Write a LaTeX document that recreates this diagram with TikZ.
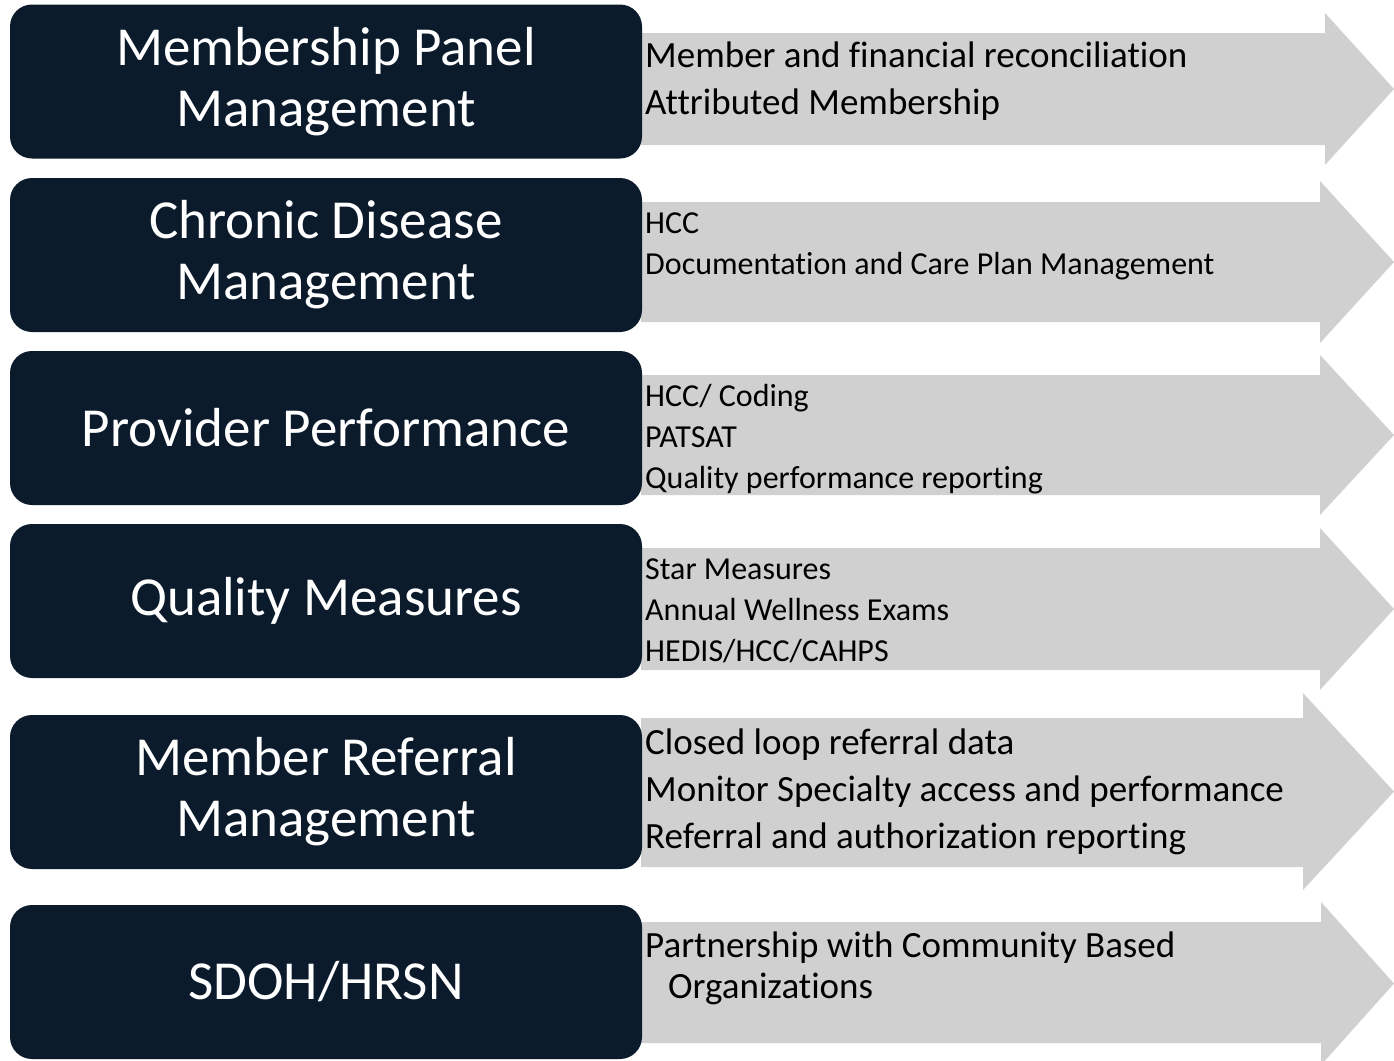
\documentclass[tikz,border=0pt]{standalone}
\usepackage{fontspec}
\setmainfont{Carlito}[Ligatures=NoCommon]
\usetikzlibrary{positioning}
\definecolor{navy}{RGB}{11,27,44}
\definecolor{arrowgray}{RGB}{208,208,208}

\tikzset{
  panel/.style={fill=navy, rounded corners=22pt, minimum width=632pt, minimum height=154pt,
    text=white, align=center, inner sep=0pt, font=\fontsize{55}{61}\selectfont},
  flow/.style={fill=arrowgray},
  itembig/.style={anchor=west, align=left, inner sep=0pt, font=\fontsize{37}{47}\selectfont},
  itemsmall/.style={anchor=west, align=left, inner sep=0pt, font=\fontsize{32}{41}\selectfont},
}

\begin{document}
\begin{tikzpicture}[x=1pt,y=-1pt]
\useasboundingbox (0,0) rectangle (1394,1060);
\clip (0,0) rectangle (1394,1060);
% grey arrows: body top/bottom, head top/bottom, head start
\foreach \bt/\bb/\ht/\hb/\hx in {33/145/13/165/1325, 202/322/181/343/1320,
  375/495/355/515/1320, 548/670/528/690/1320, 718/867/693/890/1303,
  922/1043/902/1065/1321}{
\fill[flow] (641,\bt) -- (\hx,\bt) -- (\hx,\ht) -- (1394,{(\ht+\hb)/2})
  -- (\hx,\hb) -- (\hx,\bb) -- (641,\bb) -- cycle;
}
% dark panels
\node[panel] (membership) at (326,81.5) {Membership Panel\\Management};
\node[panel] (chronic) at (326,255) {Chronic Disease\\Management};
\node[panel] (provider) at (326,428) {Provider Performance};
\node[panel] (quality) at (326,601) {Quality Measures};
\node[panel] (referral) at (326,792) {Member Referral\\Management};
\node[panel] (sdoh) at (326,982) {SDOH/HRSN};
% items on the arrows
\node[itembig] (membershipitems) at (645,81.5) {Member and financial reconciliation\\Attributed Membership};
\node[itemsmall] (chronicitems) at (645,246) {HCC\\Documentation and Care Plan Management};
\node[itemsmall] (provideritems) at (645,439) {HCC/ Coding\\PATSAT\\Quality performance reporting};
\node[itemsmall] (qualityitems) at (645,611) {Star Measures\\Annual Wellness Exams\\HEDIS/HCC/CAHPS};
\node[itembig] (referralitems) at (645,791.5) {Closed loop referral data\\Monitor Specialty access and performance\\Referral and authorization reporting};
\node[itembig, font=\fontsize{37}{41}\selectfont] (sdohitems) at (645,968) {Partnership with Community Based\\\hspace*{23pt}Organizations};
\end{tikzpicture}
\end{document}
